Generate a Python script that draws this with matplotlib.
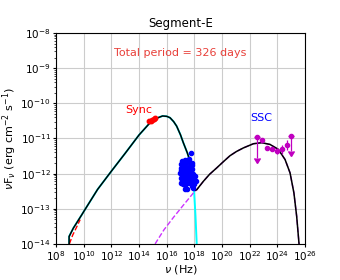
import numpy as np
import matplotlib
matplotlib.use("Agg")
import matplotlib.pyplot as plt
from matplotlib.ticker import NullLocator, LogLocator

# --- data (log10 nu [Hz], log10 nuFnu [erg cm^-2 s^-1]) ---
# synchrotron component (cyan)
sync_lognu = [8.94, 8.94, 9.25, 9.86, 10.0, 11.0, 12.0, 13.0, 14.0, 14.8, 15.3,
              15.7, 16.0, 16.24, 16.5, 16.72, 17.0, 17.2, 17.49, 17.69, 17.8,
              17.88, 17.98, 18.08, 18.17]
sync_logf = [-14.0, -13.79, -13.55, -13.17, -13.08, -12.45, -11.93, -11.42, -10.9,
             -10.55, -10.42, -10.36, -10.37, -10.41, -10.52, -10.65, -10.9,
             -11.12, -11.41, -11.65, -11.9, -12.17, -12.48, -13.2, -14.0]

# SSC component (magenta dashed)
ssc_lognu = [15.16, 15.8, 16.48, 17.2, 17.93, 18.17, 18.65, 19.1, 19.61, 20.1,
             20.58, 21.05, 21.54, 22.27, 22.87, 23.47, 24.07, 24.56, 24.92,
             25.2, 25.4, 25.57]
ssc_logf = [-14.0, -13.6, -13.25, -12.9, -12.55, -12.46, -12.22, -12.02, -11.84,
            -11.66, -11.49, -11.37, -11.27, -11.15, -11.12, -11.17, -11.31,
            -11.6, -11.98, -12.55, -13.22, -14.0]

# total model (black)
tot_lognu = sync_lognu[:22] + [18.02] + ssc_lognu[5:]
tot_logf = sync_logf[:22] + [-12.48] + ssc_logf[5:]

# low-frequency extra component (red dashed)
low_lognu = [8.96, 9.2, 9.45, 9.74]
low_logf = [-14.0, -13.75, -13.55, -13.31]

# optical/UV data (red)
opt_lognu = [14.72, 14.83, 14.94, 15.05, 15.16]
opt_logf = [-10.51, -10.5, -10.48, -10.46, -10.43]

# X-ray data (blue)
xr_lognu = [17.74, 17.6, 17.35, 17.1, 17.5, 17.8, 17.0, 17.25, 17.65, 17.05,
            17.4, 17.85, 17.15, 17.55, 16.95, 17.3, 17.7, 17.9, 17.1, 17.45,
            17.0, 17.6, 17.8, 17.2, 17.35, 17.95, 17.05, 17.5, 17.7, 17.15,
            17.85, 17.3, 17.6, 17.95, 17.2, 17.4, 17.75, 17.55, 17.0, 17.9,
            18.05, 18.1, 17.25, 17.45, 17.65, 17.35, 17.5, 17.93, 17.75, 17.1,
            17.3, 17.55, 17.8, 18.0]
xr_logf = [-11.42, -11.58, -11.6, -11.64, -11.66, -11.7, -11.72, -11.74, -11.78,
           -11.84, -11.82, -11.88, -11.9, -11.94, -11.97, -11.98, -11.99, -12.04,
           -12.06, -12.08, -12.13, -12.13, -12.16, -12.18, -12.22, -12.23, -12.26,
           -12.26, -12.28, -12.3, -12.34, -11.68, -11.86, -12.1, -11.82, -12.05,
           -11.9, -12.2, -11.9, -12.0, -12.08, -12.2, -12.12, -11.95, -12.06,
           -12.44, -12.44, -12.42, -12.2, -12.2, -12.32, -11.62, -11.76, -12.3]

# gamma-ray data (magenta)
gam_lognu = [22.56, 22.92, 23.28, 23.64, 23.98, 24.32, 24.68, 25.0]
gam_logf = [-10.96, -11.05, -11.27, -11.31, -11.36, -11.31, -11.19, -10.94]
gam_lo = [-11.55, -11.05, -11.32, -11.36, -11.44, -11.43, -11.33, -11.35]
gam_hi = [-10.96, -11.05, -11.22, -11.26, -11.28, -11.19, -11.05, -10.94]
gam_ul = [True, False, False, False, False, False, False, True]

xticks = [1e8, 1e10, 1e12, 1e14, 1e16, 1e18, 1e20, 1e22, 1e24, 1e26]
yticks = [1e-14, 1e-13, 1e-12, 1e-11, 1e-10, 1e-9, 1e-8]

fig = plt.figure(figsize=(3.4, 2.8), dpi=100)
ax = fig.add_axes([0.165, 0.129, 0.732, 0.753])


def p(a):
    return 10 ** np.asarray(a, dtype=float)


ax.plot(p(sync_lognu), p(sync_logf), color="cyan", lw=1.4, zorder=2)
ax.plot(p(low_lognu), p(low_logf), color="red", lw=1.0, ls="--", zorder=2)
ax.plot(p(ssc_lognu), p(ssc_logf), color="#cc33ff", lw=1.0, ls="--", zorder=2)
ax.plot(p(tot_lognu), p(tot_logf), color="black", lw=1.1, zorder=3)

ax.plot(p(opt_lognu), p(opt_logf), "o", color="red", ms=3.2, zorder=4)
ax.plot(p(xr_lognu), p(xr_logf), "o", color="blue", ms=3.0, zorder=4)

gy = p(gam_logf)
yerr = [gy - p(gam_lo), p(gam_hi) - gy]
ul = np.array(gam_ul)
ax.errorbar(p(gam_lognu)[~ul], gy[~ul],
            yerr=[yerr[0][~ul], yerr[1][~ul]],
            fmt="o", color="#c000c0", ms=3.0, lw=0.9, capsize=0, zorder=4)
ax.errorbar(p(gam_lognu)[ul], gy[ul], yerr=yerr[0][ul], uplims=True,
            fmt="o", color="#c000c0", ms=3.0, lw=0.9, capsize=2.5, zorder=4)

ax.set_xscale("log")
ax.set_yscale("log")
ax.set_xlim(1e8, 1e26)
ax.set_ylim(1e-14, 1e-8)
ax.set_xticks(xticks)
ax.set_yticks(yticks)
ax.xaxis.set_minor_locator(NullLocator())
ax.yaxis.set_minor_locator(LogLocator(base=10, subs=np.arange(2, 10), numticks=20))
ax.tick_params(which="major", labelsize=7.5, length=2, pad=2)
ax.tick_params(which="minor", length=1.5, width=0.5, labelleft=False)
ax.grid(True, which="major", color="#cccccc", lw=0.8)
ax.set_axisbelow(True)

ax.set_title("Segment-E", fontsize=8.5, pad=4)
ax.set_xlabel(r"$\nu$ (Hz)", fontsize=8, labelpad=0)
ax.set_ylabel(r"$\nu$F$_\nu$ (erg cm$^{-2}$ s$^{-1}$)", fontsize=8, labelpad=1)

ax.text(p(17.0), p(-8.57), "Total period = 326 days", color="#e8403a",
        fontsize=8, ha="center", va="center")
ax.text(p(14.0), p(-10.19), "Sync", color="red", fontsize=8,
        ha="center", va="center")
ax.text(p(22.87), p(-10.41), "SSC", color="blue", fontsize=8,
        ha="center", va="center")

fig.savefig("out.png", dpi=100)
